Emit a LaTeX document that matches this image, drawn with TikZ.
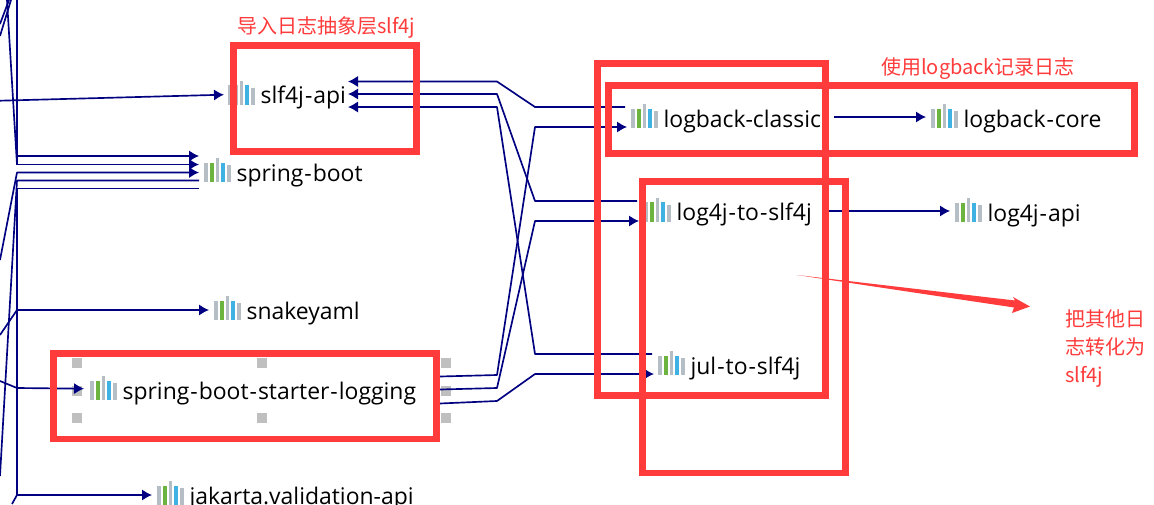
\documentclass[tikz,border=0pt]{standalone}
\usepackage{fontspec}
\setmainfont{Open Sans}
\newfontfamily\cjkfont{Noto Sans CJK SC}
\usepackage{tikz}
\usetikzlibrary{arrows.meta}
\definecolor{depline}{HTML}{000080}
\definecolor{markred}{HTML}{FF3B3B}
\definecolor{bargray}{HTML}{B4BEC4}
\definecolor{bargreen}{HTML}{6DB33F}
\definecolor{barblue}{HTML}{3FB1E3}
\newcommand{\onebar}[2]{\textcolor{#1}{\rule[-0.75pt]{2.75pt}{#2}}\hspace{1.5pt}}
\newcommand{\bars}[1]{\onebar{bargray}{14.5pt}\onebar{#1}{14.5pt}\onebar{bargray}{17.8pt}\onebar{barblue}{14.5pt}\onebar{bargray}{12.5pt}\hspace{3pt}}
\newcommand{\hy}{\kern0.75pt-\kern0.75pt}
\tikzset{
	artifact/.style={anchor=base west,inner sep=0pt,font=\fontsize{17.2}{20}\selectfont},
	dep/.style={line width=1.25pt,depline,line join=round},
	deparrow/.style={dep,-{Latex[length=7.5pt,width=8.5pt]}},
	markbox/.style={draw=markred,line width=5pt},
	marktext/.style={inner sep=0pt,anchor=base west,markred,font=\cjkfont\fontsize{15}{21}\selectfont,align=left},
	handle/.style={fill=black!25,minimum size=7.5pt,inner sep=0pt}
}

\begin{document}
\begin{tikzpicture}[x=0.75pt,y=-0.75pt]
	\useasboundingbox (0,0) rectangle (1154,504);
	\foreach \hx in {77,262,446} {
		\node [handle] at (\hx,363) {};
		\node [handle] at (\hx,418) {};
	}
	\node [handle] at (77,391) {};
	\node [handle] at (446,391) {};

	\node [artifact] (slfapi) at (228,103.5) {\bars{bargray}slf4j\hy api};
	\node [artifact] (boot) at (204,181) {\bars{bargreen}spring\hy boot};
	\node [artifact] (snake) at (214,319) {\bars{bargreen}snakeyaml};
	\node [artifact] (starter) at (90,399) {\bars{bargreen}spring\hy boot\hy starter\hy logging};
	\node [artifact] (jakarta) at (157,504) {\bars{bargreen}jakarta.validation-api};
	\node [artifact] (classic) at (631,127) {\bars{bargreen}logback-classic};
	\node [artifact] (core) at (931,127) {\bars{bargreen}logback\hy core};
	\node [artifact] (logtoslf) at (644,220.5) {\bars{bargreen}log4j\hy to\hy slf4j};
	\node [artifact] (logapi) at (955,221) {\bars{bargreen}log4j\hy api};
	\node [artifact] (jul) at (658,374) {\bars{bargreen}jul\hy to\hy slf4j};

	\coordinate (trunk) at (17,164.5);
	\coordinate (slfa) at (348,81.5);
	\coordinate (slfb) at (348,94);
	\coordinate (slfc) at (348,107);
	\coordinate (classicout) at (625,107);
	\coordinate (classicin) at (627,127);
	\coordinate (logout) at (637,201);
	\coordinate (login) at (639,221);
	\coordinate (julout) at (652,354);
	\coordinate (julin) at (654,374);
	\coordinate (starta) at (440,376.5);
	\coordinate (startb) at (440,389.5);
	\coordinate (startc) at (440,403.5);

	\draw [dep] (17,0) -- (trunk);
	\draw [dep] (7,0) -- (trunk);
	\draw [dep] (0,24) -- (9,0);
	\draw [dep] (0,36) -- (11,0);
	\draw [deparrow] (0,100.7) -- (224,94.7);
	\draw [deparrow] (17,156) -- (199,156);
	\draw [deparrow] (trunk) -- (199,164.5);
	\draw [deparrow] (0,260) -- (17,172.5) -- (199,172.5);
	\draw [dep] (0,476) -- (17,180.5) -- (199,180.5);
	\draw [dep] (17,495) -- (17,188.5) -- (199,188.5);
	\draw [deparrow] (0,335) -- (17,310) -- (209,310);
	\draw [deparrow] (0,381) -- (17,388) -- (84,388.7);
	\draw [deparrow] (12,504) -- (17,495) -- (152,495);

	\draw [deparrow] (classicout) -- (535,107) -- (497,81.5) -- (slfa);
	\draw [deparrow] (logout) -- (535,201) -- (497,94) -- (slfb);
	\draw [deparrow] (julout) -- (535,354) -- (497,107) -- (slfc);
	\draw [deparrow] (starta) -- (497,375) -- (535,127) -- (classicin);
	\draw [deparrow] (startb) -- (497,388) -- (535,221) -- (login);
	\draw [deparrow] (startc) -- (497,401) -- (535,374) -- (julin);
	\draw [deparrow] (834,117) -- (926,117);
	\draw [deparrow] (829,211) -- (950,211);

	\draw [markbox] (233.5,45.5) rectangle (416.5,151.5);
	\draw [markbox] (53.5,353.5) rectangle (436.5,439);
	\draw [markbox] (597.5,63.5) rectangle (825.5,395.5);
	\draw [markbox] (608.5,85.5) rectangle (1134.5,153.5);
	\draw [markbox] (642.5,181.5) rectangle (845.5,473);
	\fill [markred] (797,275) -- (1015,300.5) -- (1013,297) -- (1030,306.5) -- (1012,313) -- (1014,307.5) -- cycle;

	\node [marktext] (slflabel) at (237,33.5) {导入日志抽象层slf4j};
	\node [marktext] (logbacklabel) at (881,74.5) {使用logback记录日志};
	\node [marktext] (otherlabel) at (1065,382) {把其他日\\志转化为\\slf4j};
\end{tikzpicture}
\end{document}
